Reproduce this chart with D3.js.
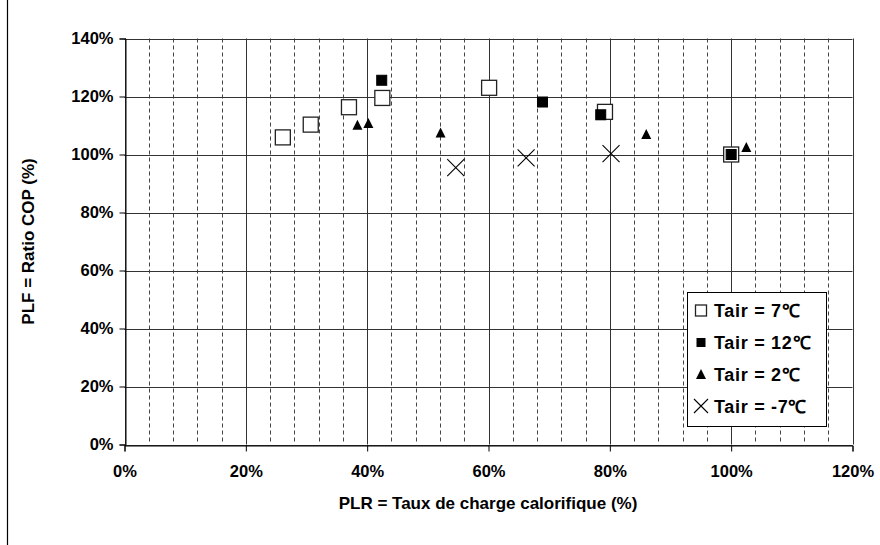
<!DOCTYPE html>
<html><head><meta charset="utf-8">
<script src="https://cdn.jsdelivr.net/npm/d3@7"></script>
<style>body{margin:0;background:#fff}svg{display:block}text{font-family:Arial,"Liberation Sans",sans-serif;font-weight:bold;fill:#000}</style>
</head><body><svg id="c" width="880" height="545"></svg>
<script>
const xTicks = [0,20,40,60,80,100,120];
const yTicks = [0,20,40,60,80,100,120,140];
const s7x = [26.1,30.7,37.0,42.5,60.1,79.2,100];
const s7y = [105.9,110.3,116.3,119.5,123.0,114.7,100];
const s12x = [42.4,68.9,78.5,100];
const s12y = [125.6,118.1,113.7,100];
const s2x = [38.4,40.2,52.1,86.0,102.5];
const s2y = [110.1,110.7,107.4,106.9,102.4];
const sm7x = [54.6,66.2,80.2];
const sm7y = [95.5,98.8,100.3];
const seriesNames = ["Tair = 7\u2103","Tair = 12\u2103","Tair = 2\u2103","Tair = -7\u2103"];
const xTitle = "PLR = Taux de charge calorifique (%)";
const yTitle = "PLF = Ratio COP (%)";

const svg = d3.select("#c");
const L=124.5,R=852.5,T=38.5,B=444.5;
const x = d3.scaleLinear().domain([0,120]).range([L,R]);
const y = d3.scaleLinear().domain([0,140]).range([B,T]);

svg.append("line").attr("x1",7.5).attr("x2",7.5).attr("y1",0).attr("y2",545).attr("stroke","#000").attr("stroke-width",1.2);

const g = svg.append("g");
const minor = d3.range(0,121,4).filter(v=>v%20!==0);
g.selectAll(".mn").data(minor).join("line")
 .attr("x1",d=>Math.round(x(d))+0.5).attr("x2",d=>Math.round(x(d))+0.5).attr("y1",T).attr("y2",B)
 .attr("stroke","#444").attr("stroke-dasharray","4,3");
g.selectAll(".mj").data(xTicks).join("line")
 .attr("x1",d=>Math.round(x(d))+0.5).attr("x2",d=>Math.round(x(d))+0.5).attr("y1",T).attr("y2",B)
 .attr("stroke","#333");
g.selectAll(".h").data(yTicks).join("line")
 .attr("x1",L).attr("x2",R).attr("y1",d=>Math.round(y(d))+0.5).attr("y2",d=>Math.round(y(d))+0.5)
 .attr("stroke","#333");

const xa = svg.append("g").attr("transform",`translate(0,${Math.round(B)+0.5})`)
 .call(d3.axisBottom(x).tickValues(xTicks).tickFormat(d=>d+"%").tickSize(6).tickPadding(14));
const ya = svg.append("g").attr("transform",`translate(${Math.round(L)+0.5},0)`)
 .call(d3.axisLeft(y).tickValues(yTicks).tickFormat(d=>d+"%").tickSize(6).tickPadding(6));
[xa,ya].forEach(a=>{a.select(".domain").attr("stroke","#000");a.selectAll("line").attr("stroke","#000");
 a.selectAll("text").attr("font-size","16.5px").attr("font-family","Arial, Liberation Sans, sans-serif").attr("font-weight","bold").attr("fill","#000");});

svg.append("text").attr("x",488).attr("y",509).attr("text-anchor","middle").attr("font-size","17px").text(xTitle);
svg.append("text").attr("transform",`translate(34,${(T+B)/2}) rotate(-90)`).attr("text-anchor","middle").attr("font-size","17px").text(yTitle);

function sq(sel,size,fill){sel.append("rect").attr("x",-size/2).attr("y",-size/2).attr("width",size).attr("height",size)
  .attr("fill",fill).attr("stroke",fill==="#fff"?"#222":"#000").attr("stroke-width",fill==="#fff"?1.3:1);}
function tri(sel,w){sel.append("path").attr("d",`M0,${-w*0.55}L${w/2},${w*0.45}L${-w/2},${w*0.45}Z`).attr("fill","#000");}
function cross(sel,w){const h=w/2;sel.append("path").attr("d",`M${-h},${-h}L${h},${h}M${-h},${h}L${h},${-h}`).attr("stroke","#000").attr("stroke-width",1.1).attr("fill","none");}

const pts = svg.append("g");
function plot(xs,ys,fn){xs.forEach((v,i)=>{const gg=pts.append("g").attr("transform",`translate(${x(v)},${y(ys[i])})`);fn(gg);});}
plot(s7x,s7y,gg=>sq(gg,15,"#fff"));
plot(s12x,s12y,gg=>sq(gg,10,"#000"));
plot(s2x,s2y,gg=>tri(gg,10));
plot(sm7x,sm7y,gg=>cross(gg,17));

const lg = svg.append("g");
lg.append("rect").attr("x",687.5).attr("y",292.5).attr("width",139).attr("height",134).attr("fill","#fff").attr("stroke","#000");
const ly=[310.5,342.5,374.5,406];
const mk=[gg=>sq(gg,11,"#fff"),gg=>sq(gg,8,"#000"),gg=>tri(gg,10),gg=>cross(gg,14)];
seriesNames.forEach((n,i)=>{
  const gg=lg.append("g").attr("transform",`translate(701,${ly[i]})`); mk[i](gg);
  lg.append("text").attr("x",714).attr("y",ly[i]+6.5).attr("font-size","18px").attr("letter-spacing","0.7px").text(n);
});
</script></body></html>
